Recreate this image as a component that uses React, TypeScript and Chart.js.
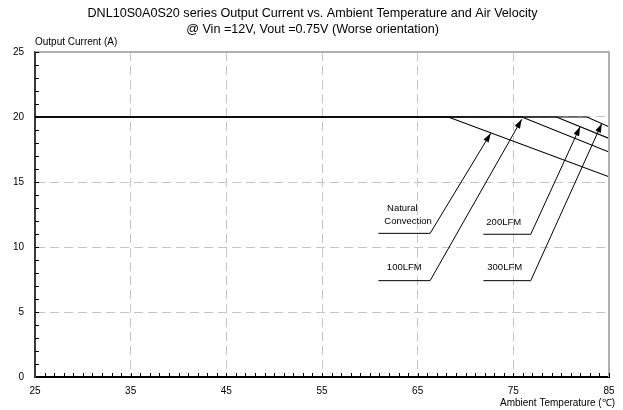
import React, { useEffect, useRef } from "react";
import { Chart, registerables } from "chart.js";

Chart.register(...registerables);

const TITLE_LINES = [
  "DNL10S0A0S20 series Output Current vs. Ambient Temperature and Air Velocity",
  "@ Vin =12V, Vout =0.75V (Worse orientation)",
];
const Y_TITLE = "Output Current (A)";
const X_TITLE = "Ambient Temperature (\u2103)";

const X_MIN = 25;
const X_MAX = 85;
const X_STEP = 10;
const Y_MIN = 0;
const Y_MAX = 25;
const Y_STEP = 5;

// Derating curves: temperature (°C) / output current (A)
const NATURAL_T = [25, 68.2, 85];
const NATURAL_I = [20, 20, 15.4];
const LFM100_T = [25, 75.9, 85];
const LFM100_I = [20, 20, 17.3];
const LFM200_T = [25, 79.5, 85];
const LFM200_I = [20, 20, 18.35];
const LFM300_T = [25, 82.7, 85];
const LFM300_I = [20, 20, 19.25];

// Annotation labels (data coordinates)
const LABEL_TEXT = ["Natural", "Convection", "100LFM", "200LFM", "300LFM"];
const LABEL_T = [63.4, 64.0, 63.6, 74.0, 74.1];
const LABEL_I = [13.0, 12.0, 8.4, 11.9, 8.4];

// Leader lines (data coordinates), last point is the arrow tip
const LEADER_NATURAL_T = [60.9, 66.3, 72.64];
const LEADER_NATURAL_I = [11.05, 11.05, 18.75];
const LEADER_100_T = [60.9, 66.3, 75.88];
const LEADER_100_I = [7.41, 7.41, 19.82];
const LEADER_200_T = [71.87, 76.82, 81.98];
const LEADER_200_I = [10.98, 10.98, 19.25];
const LEADER_300_T = [71.87, 76.82, 84.25];
const LEADER_300_I = [7.41, 7.41, 19.5];

const LEADERS = [
  [LEADER_NATURAL_T, LEADER_NATURAL_I],
  [LEADER_100_T, LEADER_100_I],
  [LEADER_200_T, LEADER_200_I],
  [LEADER_300_T, LEADER_300_I],
];

const FONT = "'Liberation Sans', Arial, Helvetica, sans-serif";

const toPts = (t: number[], i: number[]) => t.map((v, k) => ({ x: v, y: i[k] }));

const decorPlugin = {
  id: "decor",
  afterDraw(chart: any) {
    const ctx = chart.ctx as CanvasRenderingContext2D;
    const area = chart.chartArea;
    const xs = chart.scales.x;
    const ys = chart.scales.y;
    ctx.save();

    // top and right frame
    ctx.strokeStyle = "#b0b0b0";
    ctx.lineWidth = 2;
    ctx.beginPath();
    ctx.moveTo(area.left, area.top);
    ctx.lineTo(area.right, area.top);
    ctx.lineTo(area.right, area.bottom);
    ctx.stroke();

    // minor/major tick marks inside
    ctx.strokeStyle = "#000";
    ctx.lineWidth = 1;
    ctx.beginPath();
    for (let v = Y_MIN + 1; v <= Y_MAX; v += 1) {
      const y = Math.round(ys.getPixelForValue(v)) + 0.5;
      ctx.moveTo(area.left, y);
      ctx.lineTo(area.left + 4, y);
    }
    for (let t = X_MIN + 1; t <= X_MAX; t += 1) {
      const x = Math.round(xs.getPixelForValue(t)) + 0.5;
      ctx.moveTo(x, area.bottom);
      ctx.lineTo(x, area.bottom - 4);
    }
    ctx.stroke();

    // titles
    ctx.fillStyle = "#000";
    ctx.textBaseline = "middle";
    ctx.textAlign = "center";
    ctx.font = `12.6px ${FONT}`;
    const cx = chart.width / 2 + 1;
    ctx.fillText(TITLE_LINES[0], cx, 14);
    ctx.fillText(TITLE_LINES[1], cx, 30);
    ctx.font = `10px ${FONT}`;
    ctx.textAlign = "left";
    ctx.fillText(Y_TITLE, area.left, 42);
    ctx.textAlign = "right";
    ctx.fillText(X_TITLE, chart.width - 8, 403);

    // annotation labels
    ctx.font = `9.5px ${FONT}`;
    ctx.textAlign = "center";
    LABEL_TEXT.forEach((s, k) => {
      ctx.fillText(s, xs.getPixelForValue(LABEL_T[k]), ys.getPixelForValue(LABEL_I[k]));
    });

    // leader lines with arrows
    ctx.strokeStyle = "#000";
    ctx.lineWidth = 1;
    LEADERS.forEach(([T, I]) => {
      const pts = T.map((t, k) => [xs.getPixelForValue(t), ys.getPixelForValue(I[k])]);
      ctx.beginPath();
      ctx.moveTo(pts[0][0], pts[0][1]);
      for (let k = 1; k < pts.length; k++) ctx.lineTo(pts[k][0], pts[k][1]);
      ctx.stroke();
      const [x1, y1] = pts[pts.length - 2];
      const [x2, y2] = pts[pts.length - 1];
      const a = Math.atan2(y2 - y1, x2 - x1);
      const L = 9;
      const W = 3;
      const bx = x2 - L * Math.cos(a);
      const by = y2 - L * Math.sin(a);
      ctx.beginPath();
      ctx.moveTo(x2, y2);
      ctx.lineTo(bx + W * Math.sin(a), by - W * Math.cos(a));
      ctx.lineTo(bx - W * Math.sin(a), by + W * Math.cos(a));
      ctx.closePath();
      ctx.fillStyle = "#000";
      ctx.fill();
    });
    ctx.restore();
  },
};

export default function App() {
  const ref = useRef<HTMLCanvasElement | null>(null);
  useEffect(() => {
    document.body.style.margin = "0";
    if (!ref.current) return;
    Chart.defaults.font.family = FONT;
    const lineDs = (label: string, t: number[], i: number[]) => ({
      label,
      data: toPts(t, i),
      borderColor: "#000",
      borderWidth: 1.1,
      pointRadius: 0,
      fill: false,
      tension: 0,
    });
    const chart = new Chart(ref.current, {
      type: "line",
      data: {
        datasets: [
          lineDs("Natural Convection", NATURAL_T, NATURAL_I),
          lineDs("100LFM", LFM100_T, LFM100_I),
          lineDs("200LFM", LFM200_T, LFM200_I),
          lineDs("300LFM", LFM300_T, LFM300_I),
        ],
      },
      options: {
        animation: false,
        responsive: false,
        devicePixelRatio: 1,
        layout: { padding: { top: 52, right: 14, left: 0, bottom: 0 } },
        plugins: { legend: { display: false }, tooltip: { enabled: false }, title: { display: false } },
        scales: {
          x: {
            type: "linear",
            min: X_MIN,
            max: X_MAX,
            ticks: { stepSize: X_STEP, padding: 8, color: "#000", font: { size: 10, family: FONT } },
            grid: {
              drawTicks: false,
              lineWidth: 1,
              color: (c: any) =>
                c.tick && c.tick.value > X_MIN && c.tick.value < X_MAX ? "#c4c4c4" : "rgba(0,0,0,0)",
            },
            border: { display: true, color: "#000", width: 2, dash: [9, 5] },
            afterFit: (s: any) => {
              s.height = 33;
            },
          },
          y: {
            type: "linear",
            min: Y_MIN,
            max: Y_MAX,
            ticks: { stepSize: Y_STEP, padding: 11, color: "#000", font: { size: 10, family: FONT } },
            grid: {
              drawTicks: false,
              lineWidth: 1,
              color: (c: any) =>
                c.tick && c.tick.value > Y_MIN && c.tick.value < Y_MAX ? "#c4c4c4" : "rgba(0,0,0,0)",
            },
            border: { display: true, color: "#3a3a3a", width: 2, dash: [9, 5] },
            afterFit: (s: any) => {
              s.width = 35;
            },
          },
        },
      },
      plugins: [decorPlugin],
    });
    return () => chart.destroy();
  }, []);
  return (
    <div style={{ position: "absolute", left: 0, top: 0, width: 623, height: 410, background: "#fff" }}>
      <canvas ref={ref} width={623} height={410} />
    </div>
  );
}
